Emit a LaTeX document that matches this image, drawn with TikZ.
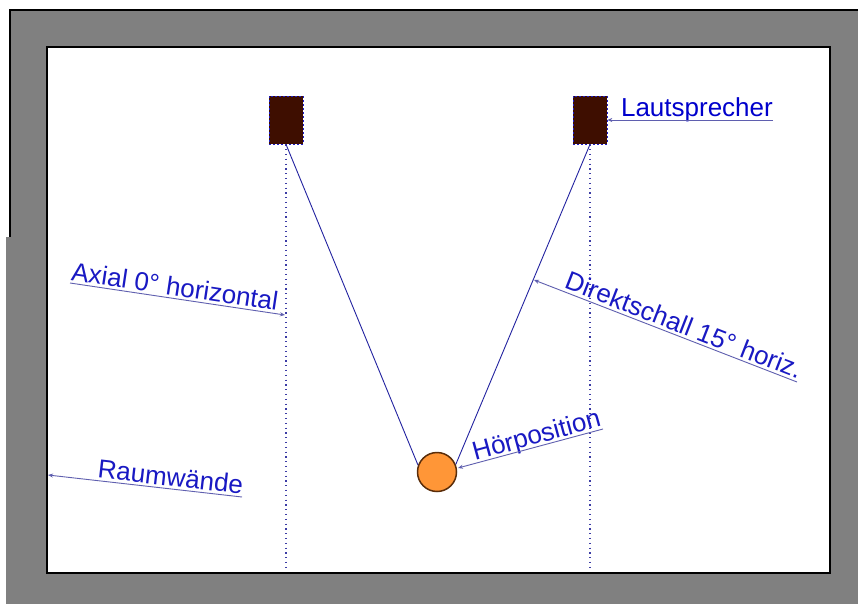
\documentclass[tikz,border=0pt]{standalone}
\usepackage{fontspec}
\setmainfont{Liberation Sans}
\usetikzlibrary{arrows.meta,calc}
\definecolor{wallgray}{RGB}{128,128,128}
\definecolor{spkbrown}{RGB}{62,14,0}
\definecolor{spkedge}{RGB}{30,30,200}
\definecolor{raycol}{RGB}{35,35,160}
\definecolor{dotcol}{RGB}{60,60,165}
\definecolor{txtblue}{RGB}{25,25,195}
\definecolor{ulcol}{RGB}{95,95,175}
\definecolor{lisorange}{RGB}{255,150,55}
\definecolor{lisedge}{RGB}{90,45,10}
\begin{document}
\begin{tikzpicture}[x=1pt,y=-1pt,
  spk/.style={draw=spkedge, dash pattern=on 2pt off 2pt, line width=0.7pt, fill=spkbrown,
    minimum width=34pt, minimum height=48pt, inner sep=0pt, rectangle},
  axisline/.style={draw=dotcol, line width=1.3pt, dash pattern=on 1.3pt off 3.5pt},
  ray/.style={draw=raycol, line width=0.9pt},
  lab/.style={text=txtblue, inner sep=0pt, font=\fontsize{26}{30}\selectfont},
  lbl/.style={draw=ulcol, line width=0.9pt, -{Stealth[length=5pt,width=4pt]}},
  lis/.style={circle, fill=lisorange, draw=lisedge, line width=1.5pt, minimum size=39pt, inner sep=0pt}]
\useasboundingbox (0,0) rectangle (858,604);
\fill[white] (0,0) rectangle (858,604);
% room walls
\draw[fill=wallgray, line width=1.2pt] (10,10) rectangle (880,625);
\fill[wallgray] (6,237) rectangle (12,604);
\draw[fill=white, line width=1.2pt] (47,47) rectangle (830,573);
% speakers
\node[spk] (spkL) at (286,120) {};
\node[spk] (spkR) at (590,120) {};
% axis lines
\coordinate (dL) at (286,567);
\coordinate (dR) at (590,567);
\draw[axisline] (spkL.south) -- (dL);
\draw[axisline] (spkR.south) -- (dR);
% listener
\node[lis] (lis) at (437,472) {};
\draw[ray] (spkL.south) -- (lis.160);
\draw[ray] (spkR.south) -- (lis.22);
% Lautsprecher
\coordinate (lsEnd) at (773,120);
\node[lab, text=blue!80!black, anchor=base east] (lsT) at (773,116.5) {Lautsprecher};
\draw[lbl] (lsEnd) -- (spkR.east |- lsEnd);
% Axial
\coordinate (axStart) at (70,283);
\coordinate (axTip) at (285,315);
\node[lab, rotate=-8.5, anchor=base west] (axT) at (70.4,280) {Axial 0° horizontal};
\draw[lbl] (axStart) -- (axTip);
% Direktschall
\coordinate (dsEnd) at (797,382);
\coordinate (dsTip) at (534,280);
\node[lab, rotate=-21.3, anchor=base east] (dsT) at (798,379.2) {Direktschall 15° horiz.};
\draw[lbl] (dsEnd) -- (dsTip);
% Hoerposition
\coordinate (hpEnd) at (603,429);
\coordinate (hpTip) at (458,468);
\node[lab, rotate=15.3, anchor=base east] (hpT) at (602.2,426.1) {Hörposition};
\draw[lbl] (hpEnd) -- (hpTip);
% Raumwaende
\coordinate (rwEnd) at (242,497);
\coordinate (rwTip) at (48,475);
\node[lab, rotate=-6.4, anchor=base east] (rwT) at (242.3,494) {Raumwände};
\draw[lbl] (rwEnd) -- (rwTip);
\end{tikzpicture}
\end{document}
